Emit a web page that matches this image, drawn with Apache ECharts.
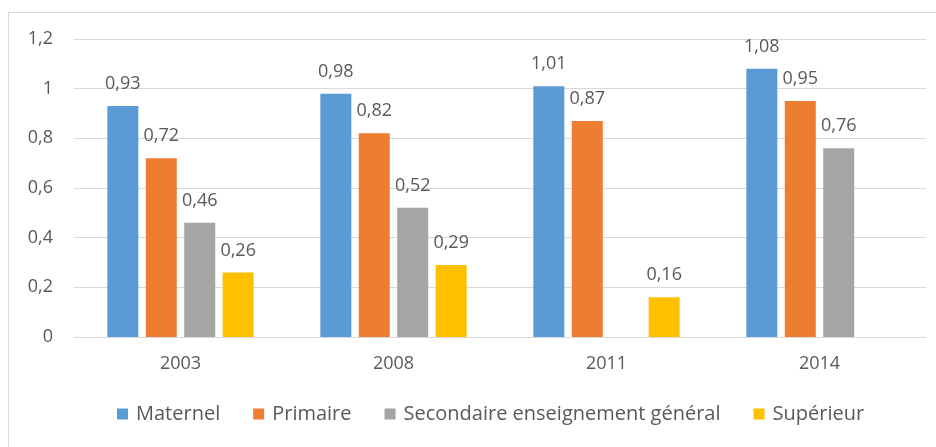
<!DOCTYPE html>
<html>
<head>
<meta charset="utf-8">
<script src="https://cdn.jsdelivr.net/npm/echarts@6/dist/echarts.min.js"></script>
<style>
  html, body { margin: 0; padding: 0; background: #fff; }
  #frame { position: absolute; left: 8px; top: 12px; width: 940px; height: 460px;
           border-left: 1px solid #d9d9d9; border-top: 1px solid #d9d9d9; }
  #chart { position: absolute; left: 0; top: 0; width: 936px; height: 447px; }
</style>
</head>
<body>
<div id="frame"></div>
<div id="chart"></div>
<script>
// données
var years = ['2003', '2008', '2011', '2014'];
var maternel = [0.93, 0.98, 1.01, 1.08];
var primaire = [0.72, 0.82, 0.87, 0.95];
var secondaire = [0.46, 0.52, null, 0.76];
var superieur = [0.26, 0.29, 0.16, null];
var seriesNames = ['Maternel', 'Primaire', 'Secondaire enseignement général', 'Supérieur'];
var colors = ['#5b9bd5', '#ed7d31', '#a5a5a5', '#ffc000'];

var font = 'Open Sans, sans-serif';
var txt = '#595959';
var fs = 18;

function comma(v) {
    return String(v).replace('.', ',');
}

function makeSeries(name, data, color) {
    return {
        name: name,
        type: 'bar',
        data: data,
        barWidth: 31,
        barGap: '24%',
        itemStyle: { color: color },
        label: {
            show: true,
            position: 'top',
            distance: 13,
            color: txt,
            fontFamily: font,
            fontSize: fs,
            formatter: function (p) { return comma(p.value); }
        }
    };
}

var chart = echarts.init(document.getElementById('chart'));
chart.setOption({
    animation: false,
    color: colors,
    grid: { left: 74, right: 10, top: 39, bottom: 110, containLabel: false },
    legend: {
        bottom: 18,
        left: 112,
        itemWidth: 11,
        itemHeight: 11,
        itemGap: 33,
        icon: 'rect',
        textStyle: { color: txt, fontFamily: font, fontSize: 20, padding: [0, 0, 0, 3] },
        data: seriesNames
    },
    xAxis: {
        type: 'category',
        data: years,
        axisLine: { lineStyle: { color: '#d9d9d9' } },
        axisTick: { show: false },
        axisLabel: { color: txt, fontFamily: font, fontSize: fs, margin: 18 }
    },
    yAxis: {
        type: 'value',
        min: 0,
        max: 1.2,
        interval: 0.2,
        splitLine: { lineStyle: { color: '#d9d9d9' } },
        axisLabel: {
            color: txt, fontFamily: font, fontSize: fs, margin: 21,
            formatter: function (v) { return comma(Math.round(v * 10) / 10); }
        }
    },
    series: [
        makeSeries(seriesNames[0], maternel, colors[0]),
        makeSeries(seriesNames[1], primaire, colors[1]),
        makeSeries(seriesNames[2], secondaire, colors[2]),
        makeSeries(seriesNames[3], superieur, colors[3])
    ]
});
</script>
</body>
</html>
